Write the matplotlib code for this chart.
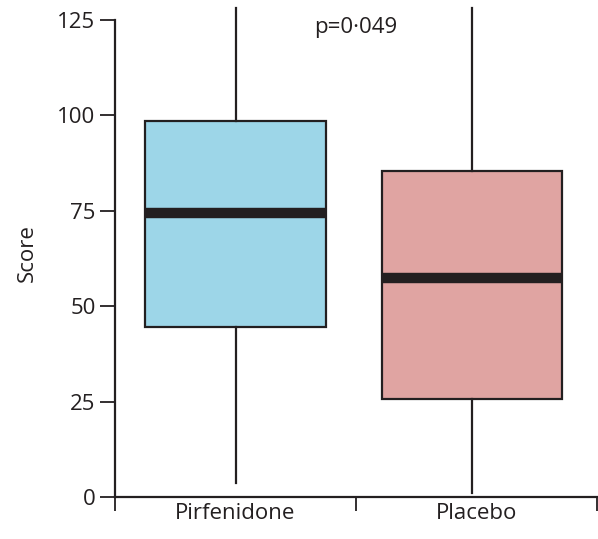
import matplotlib
matplotlib.use('Agg')
import matplotlib.pyplot as plt

# box statistics
groups = ['Pirfenidone', 'Placebo']
q1 = [44.5, 25.7]
median = [74.4, 57.4]
q3 = [98.5, 85.4]
whislo = [3.7, 1.0]
whishi = [128.0, 128.0]
colors = ['#9dd6e8', '#e0a4a2']
yticks = [0, 25, 50, 75, 100, 125]

plt.rcParams['font.family'] = ['Open Sans', 'DejaVu Sans']
ink = '#231f20'

fig = plt.figure(figsize=(5.98, 5.39), dpi=100)
ax = fig.add_axes([115 / 598, 42 / 539, 482 / 598, 487 / 539])

stats = []
for i in range(len(groups)):
    stats.append({'label': groups[i], 'q1': q1[i], 'med': median[i], 'q3': q3[i],
                  'whislo': whislo[i], 'whishi': whishi[i], 'fliers': []})

bp = ax.bxp(stats, positions=[0.5, 1.48], widths=[0.755, 0.747], patch_artist=True,
            showcaps=False,
            boxprops=dict(edgecolor=ink, linewidth=1.6),
            medianprops=dict(color=ink, linewidth=7.5, solid_capstyle='butt'),
            whiskerprops=dict(color=ink, linewidth=1.6))
for patch, c in zip(bp['boxes'], colors):
    patch.set_facecolor(c)
for w in bp['whiskers']:
    w.set_clip_on(False)

ax.set_xlim(0, 2)
ax.set_ylim(0, 127.6)
ax.set_yticks(yticks)
ax.set_xticks([0, 1, 2])
ax.set_xticklabels([])
ax.set_xticks([0.5, 1.5], minor=True)
ax.set_xticklabels(groups, minor=True)
ax.tick_params(axis='x', which='minor', length=0, pad=4, labelsize=16, labelcolor=ink)
ax.tick_params(axis='x', which='major', length=10, width=1.3, color=ink)
ax.tick_params(axis='y', length=11, width=1.3, color=ink, labelsize=16, labelcolor=ink, pad=3)

for s in ['top', 'right']:
    ax.spines[s].set_visible(False)
for s in ['left', 'bottom']:
    ax.spines[s].set_linewidth(1.6)
    ax.spines[s].set_color(ink)
ax.spines['left'].set_bounds(0, 125)

ax.set_ylabel('Score', fontsize=16, color=ink, labelpad=14)
ax.text(1.0, 123, 'p=0\u00b7049', ha='center', va='center', fontsize=16, color=ink)

fig.savefig('out.png', dpi=100)
